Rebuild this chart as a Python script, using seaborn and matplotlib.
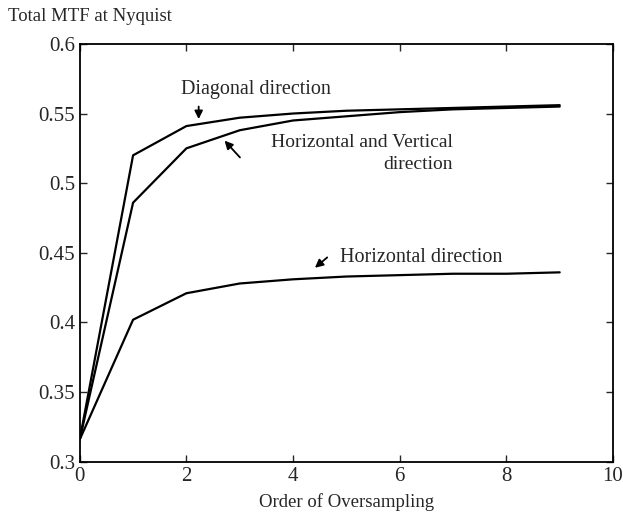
import numpy as np
import pandas as pd
import matplotlib
matplotlib.use("Agg")
import matplotlib.pyplot as plt
import seaborn as sns

# data
order = [0, 1, 2, 3, 4, 5, 6, 7, 8, 9]
diagonal = [0.316, 0.520, 0.541, 0.547, 0.550, 0.552, 0.553, 0.554, 0.555, 0.556]
horiz_vert = [0.316, 0.486, 0.525, 0.538, 0.545, 0.548, 0.551, 0.553, 0.554, 0.555]
horizontal = [0.316, 0.402, 0.421, 0.428, 0.431, 0.433, 0.434, 0.435, 0.435, 0.436]

df = pd.DataFrame({
    'order': order * 3,
    'mtf': diagonal + horiz_vert + horizontal,
    'direction': ['Diagonal'] * 10 + ['HV'] * 10 + ['Horizontal'] * 10,
})

sns.set_style("ticks")
plt.rcParams['font.family'] = ['Liberation Serif', 'DejaVu Serif']

fig = plt.figure(figsize=(6.23, 5.16), dpi=100)
ax = fig.add_axes([0.128, 0.105, 0.856, 0.81])

sns.lineplot(data=df, x='order', y='mtf', units='direction', estimator=None,
             color='black', linewidth=1.6, ax=ax, legend=False)

ax.set_xlim(0, 10)
ax.set_ylim(0.3, 0.6)
ax.set_xticks([0, 2, 4, 6, 8, 10])
ax.set_yticks([0.3, 0.35, 0.4, 0.45, 0.5, 0.55, 0.6])
ax.set_yticklabels(['0.3', '0.35', '0.4', '0.45', '0.5', '0.55', '0.6'])
ax.tick_params(direction='in', top=True, right=True, labelsize=15, length=5, width=1)
for s in ax.spines.values():
    s.set_visible(True)
    s.set_linewidth(1.3)
    s.set_color('black')

ax.set_xlabel('Order of Oversampling', fontsize=13.5, labelpad=5)
ax.set_ylabel('')
fig.text(0.013, 0.968, 'Total MTF at Nyquist', fontsize=13.5, ha='left', va='center')

arrow = dict(arrowstyle='-|>', color='black', lw=1.3, mutation_scale=12)
ax.annotate('Diagonal direction', xy=(2.23, 0.544), xytext=(3.3, 0.567),
            fontsize=14.5, ha='center', va='center')
ax.annotate('', xy=(2.23, 0.544), xytext=(2.23, 0.557), arrowprops=arrow)

ax.text(7.0, 0.5215, 'Horizontal and Vertical\ndirection', fontsize=14,
        ha='right', va='center', multialignment='right', linespacing=1.4)
ax.annotate('', xy=(2.68, 0.532), xytext=(3.04, 0.517), arrowprops=arrow)

ax.text(4.88, 0.447, 'Horizontal direction', fontsize=14.5, ha='left', va='center')
ax.annotate('', xy=(4.37, 0.438), xytext=(4.68, 0.448), arrowprops=arrow)

fig.savefig('out.png', dpi=100, facecolor='white')
